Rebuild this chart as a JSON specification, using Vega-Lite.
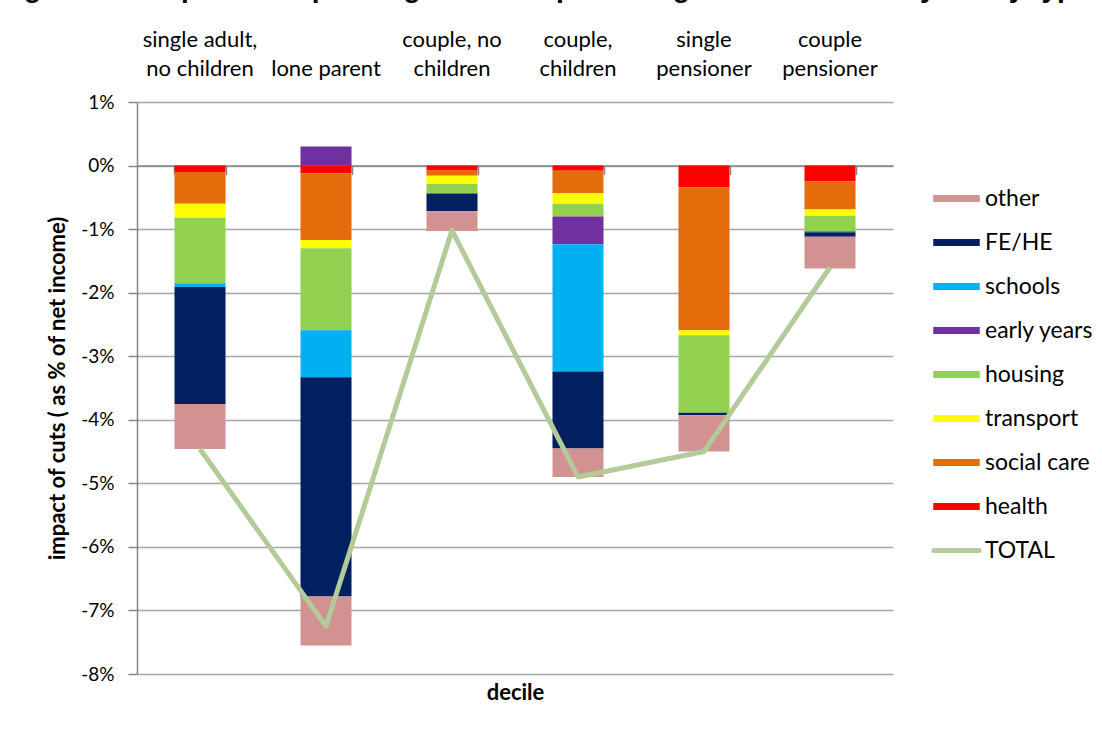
{
  "$schema": "https://vega.github.io/schema/vega-lite/v6.json",
  "autosize": {"type": "none"},
  "padding": {"left": 137, "top": 102, "right": 209, "bottom": 57},
  "width": 756,
  "height": 572,
  "background": "white",
  "title": {
    "text": "Figure 5.2: Impacts of spending cuts as a percentage of net income by family type",
    "anchor": "start",
    "frame": "group",
    "font": "Liberation Sans",
    "fontSize": 28,
    "fontWeight": "bold",
    "color": "black",
    "dx": -138,
    "offset": 3,
    "baseline": "alphabetic"
  },
  "datasets": {
    "parts": [
      {"family": "single adult, no children", "series": "health", "k": 1, "value": -0.10},
      {"family": "single adult, no children", "series": "social care", "k": 2, "value": -0.50},
      {"family": "single adult, no children", "series": "transport", "k": 3, "value": -0.22},
      {"family": "single adult, no children", "series": "housing", "k": 4, "value": -1.03},
      {"family": "single adult, no children", "series": "schools", "k": 6, "value": -0.06},
      {"family": "single adult, no children", "series": "FE/HE", "k": 7, "value": -1.84},
      {"family": "single adult, no children", "series": "other", "k": 8, "value": -0.71},
      {"family": "lone parent", "series": "health", "k": 1, "value": -0.12},
      {"family": "lone parent", "series": "social care", "k": 2, "value": -1.05},
      {"family": "lone parent", "series": "transport", "k": 3, "value": -0.13},
      {"family": "lone parent", "series": "housing", "k": 4, "value": -1.29},
      {"family": "lone parent", "series": "early years", "k": 5, "value": 0.30},
      {"family": "lone parent", "series": "schools", "k": 6, "value": -0.74},
      {"family": "lone parent", "series": "FE/HE", "k": 7, "value": -3.45},
      {"family": "lone parent", "series": "other", "k": 8, "value": -0.77},
      {"family": "couple, no children", "series": "health", "k": 1, "value": -0.07},
      {"family": "couple, no children", "series": "social care", "k": 2, "value": -0.09},
      {"family": "couple, no children", "series": "transport", "k": 3, "value": -0.13},
      {"family": "couple, no children", "series": "housing", "k": 4, "value": -0.15},
      {"family": "couple, no children", "series": "FE/HE", "k": 7, "value": -0.28},
      {"family": "couple, no children", "series": "other", "k": 8, "value": -0.31},
      {"family": "couple, children", "series": "health", "k": 1, "value": -0.08},
      {"family": "couple, children", "series": "social care", "k": 2, "value": -0.35},
      {"family": "couple, children", "series": "transport", "k": 3, "value": -0.17},
      {"family": "couple, children", "series": "housing", "k": 4, "value": -0.20},
      {"family": "couple, children", "series": "early years", "k": 5, "value": -0.44},
      {"family": "couple, children", "series": "schools", "k": 6, "value": -2.00},
      {"family": "couple, children", "series": "FE/HE", "k": 7, "value": -1.21},
      {"family": "couple, children", "series": "other", "k": 8, "value": -0.45},
      {"family": "single pensioner", "series": "health", "k": 1, "value": -0.34},
      {"family": "single pensioner", "series": "social care", "k": 2, "value": -2.25},
      {"family": "single pensioner", "series": "transport", "k": 3, "value": -0.08},
      {"family": "single pensioner", "series": "housing", "k": 4, "value": -1.22},
      {"family": "single pensioner", "series": "FE/HE", "k": 7, "value": -0.04},
      {"family": "single pensioner", "series": "other", "k": 8, "value": -0.57},
      {"family": "couple pensioner", "series": "health", "k": 1, "value": -0.25},
      {"family": "couple pensioner", "series": "social care", "k": 2, "value": -0.44},
      {"family": "couple pensioner", "series": "transport", "k": 3, "value": -0.10},
      {"family": "couple pensioner", "series": "housing", "k": 4, "value": -0.24},
      {"family": "couple pensioner", "series": "schools", "k": 6, "value": -0.02},
      {"family": "couple pensioner", "series": "FE/HE", "k": 7, "value": -0.07},
      {"family": "couple pensioner", "series": "other", "k": 8, "value": -0.50}
    ],
    "totals": [
      {"family": "single adult, no children", "series": "TOTAL", "value": -4.46},
      {"family": "lone parent", "series": "TOTAL", "value": -7.25},
      {"family": "couple, no children", "series": "TOTAL", "value": -1.02},
      {"family": "couple, children", "series": "TOTAL", "value": -4.90},
      {"family": "single pensioner", "series": "TOTAL", "value": -4.50},
      {"family": "couple pensioner", "series": "TOTAL", "value": -1.60}
    ]
  },
  "encoding": {
    "y": {
      "field": "value",
      "type": "quantitative",
      "scale": {"domain": [-8, 1], "nice": false, "zero": false},
      "axis": {
        "values": [-8, -7, -6, -5, -4, -3, -2, -1, 0, 1],
        "labelExpr": "datum.value + '%'",
        "labelFontSize": 19,
        "labelColor": "black",
        "labelPadding": 14,
        "tickSize": 9,
        "tickColor": "#868686",
        "tickWidth": 1.5,
        "domainColor": "#868686",
        "domainWidth": 1.5,
        "grid": true,
        "gridColor": "#a6a6a6",
        "gridWidth": 1.5,
        "title": "impact of cuts ( as % of net income)",
        "titleFontSize": 22,
        "titleFontWeight": "bold",
        "titleColor": "black",
        "titleAngle": 270,
        "titleX": -80,
        "titleY": 286,
        "titleAlign": "center",
        "titleBaseline": "middle"
      }
    },
    "color": {
      "field": "series",
      "type": "nominal",
      "scale": {
        "domain": ["other", "FE/HE", "schools", "early years", "housing", "transport", "social care", "health", "TOTAL"],
        "range": ["#d29292", "#002060", "#00b0f0", "#7030a0", "#92d050", "#ffff00", "#e46c0a", "#ff0000", "#b3cb98"]
      },
      "legend": {
        "orient": "none",
        "legendX": 808,
        "legendY": 85,
        "title": null,
        "padding": 0,
        "symbolSize": 900,
        "labelFontSize": 23,
        "labelColor": "black",
        "labelOffset": 17,
        "rowPadding": 20,
        "symbolStrokeWidth": 0,
        "encode": {
          "symbols": {
            "update": {
              "shape": {"signal": "datum.value === 'TOTAL' ? 'M-1.5,0H1.5' : 'M-1.55,-0.23H1.55V0.23H-1.55Z'"},
              "fill": {"signal": "scale('color', datum.value)"},
              "stroke": {"signal": "scale('color', datum.value)"},
              "strokeWidth": {"signal": "datum.value === 'TOTAL' ? 5 : 0"},
              "strokeCap": {"value": "round"},
              "opacity": {"value": 1},
              "fillOpacity": {"value": 1}
            }
          }
        }
      }
    }
  },
  "layer": [
    {
      "data": {"name": "parts"},
      "mark": {"type": "bar"},
      "encoding": {
        "x": {
          "field": "family",
          "type": "nominal",
          "sort": null,
          "scale": {
            "domain": ["single adult, no children", "lone parent", "couple, no children", "couple, children", "single pensioner", "couple pensioner"],
            "paddingInner": 0.595,
            "paddingOuter": 0.2976
          },
          "axis": {
            "orient": "top",
            "title": null,
            "labelAngle": 0,
            "labelFontSize": 22,
            "labelColor": "black",
            "labelLineHeight": 29,
            "labelPadding": 51,
            "labelLimit": 300,
            "ticks": false,
            "domain": false,
            "grid": false,
            "labelExpr": "datum.label == 'single adult, no children' ? ['single adult,', 'no children'] : datum.label == 'couple, no children' ? ['couple, no', 'children'] : datum.label == 'couple, children' ? ['couple,', 'children'] : datum.label == 'single pensioner' ? ['single', 'pensioner'] : datum.label == 'couple pensioner' ? ['couple', 'pensioner'] : ['', datum.label]"
          }
        },
        "order": {"field": "k", "type": "quantitative"}
      }
    },
    {
      "data": {"name": "totals"},
      "mark": {"type": "line", "strokeWidth": 5, "strokeJoin": "round"},
      "encoding": {
        "x": {
          "field": "family",
          "type": "nominal",
          "sort": null,
          "axis": {
            "orient": "bottom",
            "offset": -508.4,
            "labels": false,
            "ticks": true,
            "tickBand": "extent",
            "tickSize": 9,
            "tickColor": "#868686",
            "tickWidth": 1.5,
            "domain": true,
            "domainColor": "#868686",
            "domainWidth": 1.5,
            "grid": false,
            "title": "decile",
            "titleFontSize": 22,
            "titleFontWeight": "bold",
            "titleColor": "black",
            "titleX": 378,
            "titleY": 527,
            "titleBaseline": "middle",
            "titleAlign": "center"
          }
        }
      }
    }
  ],
  "resolve": {"axis": {"x": "independent"}},
  "config": {
    "font": "Lato",
    "view": {"stroke": null}
  }
}
